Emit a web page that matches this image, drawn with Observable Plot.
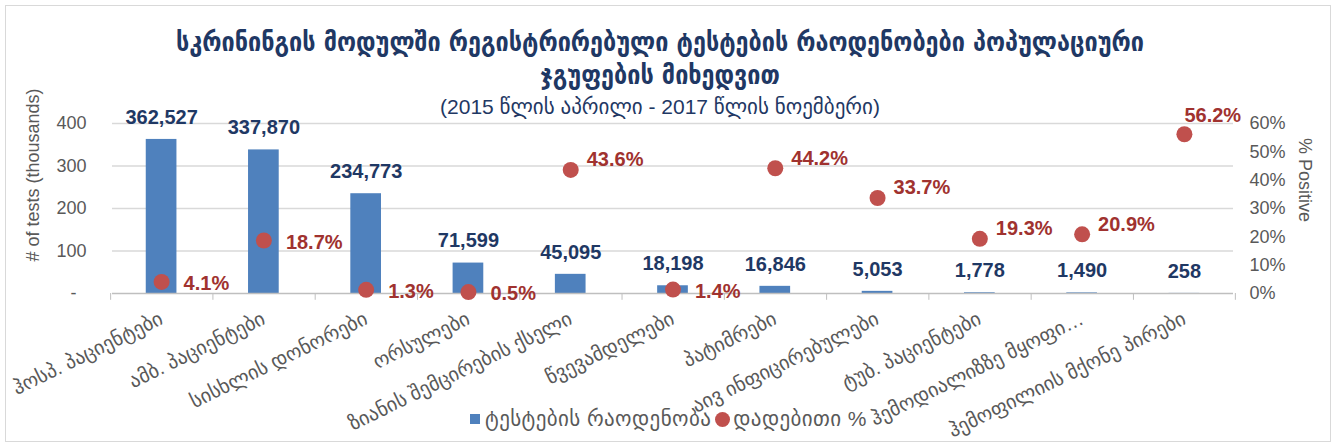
<!DOCTYPE html>
<html><head><meta charset="utf-8">
<script src="https://cdn.jsdelivr.net/npm/d3@7"></script>
<script src="https://cdn.jsdelivr.net/npm/@observablehq/plot@0.6"></script>
<style>
body{margin:0;background:#fff;}
#wrap{position:relative;width:1336px;height:447px;overflow:hidden;font-family:"Liberation Sans",Arial,"DejaVu Sans",sans-serif;background:#fff;}
#frame{position:absolute;left:5px;top:5px;width:1326px;height:437px;border:1px solid #d9d9d9;box-sizing:border-box;pointer-events:none}
#title{position:absolute;left:0;width:1320px;top:26px;text-align:center;font-family:"DejaVu Sans Condensed","DejaVu Sans",sans-serif;font-weight:bold;font-size:26px;line-height:33px;color:#1f3864}
#sub{position:absolute;left:0;width:1320px;top:95px;text-align:center;font-family:"Liberation Sans","DejaVu Sans",sans-serif;font-size:21px;color:#1f3864}
#legend{position:absolute;top:406px;left:470px;font-size:21px;letter-spacing:0.4px;color:#595959;white-space:nowrap;font-family:"Liberation Sans","DejaVu Sans",sans-serif}
#legend span{display:inline-block;vertical-align:middle}
.sq{width:10px;height:10px;background:#4f81bd;margin-right:5px}
.ci{width:15px;height:15px;border-radius:50%;background:#c0504d;margin-left:4px;margin-right:3px}
.ax{position:absolute;width:240px;text-align:center;font-size:18px;color:#595959;line-height:20px;white-space:nowrap}
#ylab{left:-87px;top:165px;transform:rotate(-90deg)}
#y2lab{left:1185px;top:170px;transform:rotate(90deg)}
#chart{position:absolute;left:0;top:0}
</style></head>
<body>
<div id="wrap">
  <div id="chart"></div>
  <div id="title">სკრინინგის მოდულში რეგისტრირებული ტესტების რაოდენობები პოპულაციური<br>ჯგუფების მიხედვით</div>
  <div id="sub">(2015 წლის აპრილი - 2017 წლის ნოემბერი)</div>
  <div class="ax" id="ylab"># of tests (thousands)</div>
  <div class="ax" id="y2lab">% Positive</div>
  <div id="legend"><span class="sq"></span><span>ტესტების რაოდენობა</span><span class="ci"></span><span>დადებითი %</span></div>
  <div id="frame"></div>
</div>
<script>
const categories = [
  "ჰოსპ. პაციენტები",
  "ამბ. პაციენტები",
  "სისხლის დონორები",
  "ორსულები",
  "ზიანის შემცირების ქსელი",
  "წვევამდელები",
  "პატიმრები",
  "აივ ინფიცირებულები",
  "ტუბ. პაციენტები",
  "ჰემოდიალიზზე მყოფი…",
  "ჰემოფილიის მქონე პირები"
];
const tests = [362527, 337870, 234773, 71599, 45095, 18198, 16846, 5053, 1778, 1490, 258];
const positivePct = [4.1, 18.7, 1.3, 0.5, 43.6, 1.4, 44.2, 33.7, 19.3, 20.9, 56.2];
const leftTicks = [0, 100, 200, 300, 400];
const rightTicks = [0, 10, 20, 30, 40, 50, 60];

const data = categories.map((c, i) => ({cat: c, tests: tests[i], k: tests[i] / 1000, pct: positivePct[i]}));
const pctToY = p => p * 400 / 60;

const W = 1336, H = 447, mL = 112, mR = 103, mT = 123, mB = 154;
const step = (W - mL - mR) / categories.length;
const fmt = d3.format(",");
const navy = "#1f3864", red = "#a0322f", gray = "#595959";
const pctLabel = d => d.pct.toFixed(1) + "%";

const chart = Plot.plot({
  width: W, height: H,
  marginLeft: mL, marginRight: mR, marginTop: mT, marginBottom: mB,
  style: {fontFamily: "'Liberation Sans', Arial, 'DejaVu Sans', sans-serif", fontSize: "18px", background: "transparent", overflow: "visible"},
  x: {domain: categories, paddingInner: 0.7, paddingOuter: 0.33, round: false},
  y: {domain: [0, 400]},
  marks: [
    Plot.ruleY(leftTicks.filter(t => t > 0), {stroke: "#d9d9d9", strokeWidth: 1.3}),
    Plot.barY(data, {x: "cat", y: "k", fill: "#4f81bd"}),
    Plot.ruleY([0], {stroke: "#bfbfbf", strokeWidth: 1.3}),
    Plot.ruleX(categories, {x: d => d, dx: -step / 2, y1: 0, y2: -16, stroke: "#bfbfbf"}),
    Plot.ruleX([categories[categories.length - 1]], {x: d => d, dx: step / 2, y1: 0, y2: -16, stroke: "#bfbfbf"}),
    Plot.axisY({anchor: "left", ticks: leftTicks, tickSize: 0, tickPadding: 26, fontSize: 18, color: gray,
      tickFormat: d => d === 0 ? "-\u2007" : String(d), label: null}),
    Plot.axisY({anchor: "right", ticks: rightTicks.map(pctToY), tickSize: 0, tickPadding: 16, fontSize: 18, color: gray,
      tickFormat: d => Math.round(d * 60 / 400) + "%", label: null}),
    Plot.axisX({tickRotate: -26, tickSize: 0, tickPadding: 24, fontSize: 20, color: gray, label: null}),
    Plot.text(data, {x: "cat", y: "k", text: d => fmt(d.tests), dy: -22, fontSize: 20, fontWeight: "bold", fill: navy}),
    Plot.dot(data, {x: "cat", y: d => pctToY(d.pct), r: 8, fill: "#c0504d"}),
    Plot.text(data.filter(d => d.pct <= 19), {x: "cat", y: d => pctToY(d.pct), text: pctLabel, textAnchor: "start", dx: 22, dy: 2, fontSize: 20, fontWeight: "bold", fill: red}),
    Plot.text(data.filter(d => d.pct > 19 && d.pct < 50), {x: "cat", y: d => pctToY(d.pct), text: pctLabel, textAnchor: "start", dx: 16, dy: -10, fontSize: 20, fontWeight: "bold", fill: red}),
    Plot.text(data.filter(d => d.pct >= 50), {x: "cat", y: d => pctToY(d.pct), text: pctLabel, textAnchor: "start", dx: 0, dy: -19, fontSize: 20, fontWeight: "bold", fill: red})
  ]
});
document.getElementById("chart").appendChild(chart);
</script>
</body></html>
